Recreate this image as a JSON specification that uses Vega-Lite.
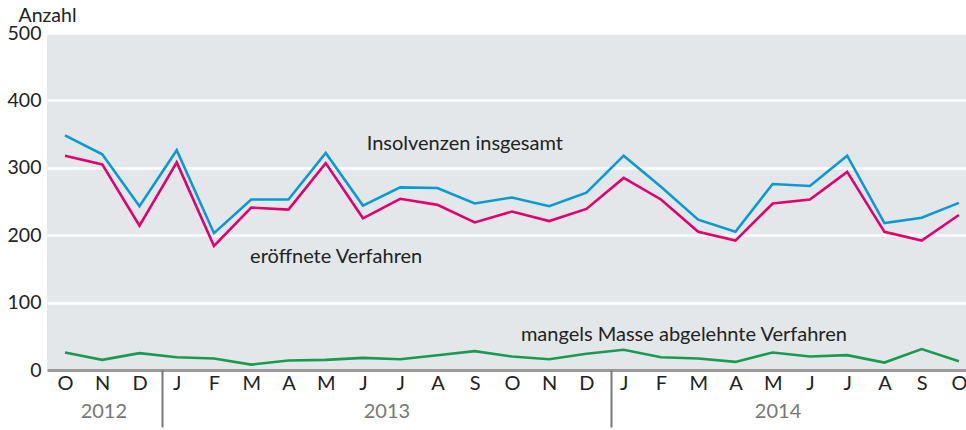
{
  "$schema": "https://vega.github.io/schema/vega-lite/v6.json",
  "width": 919,
  "height": 337,
  "autosize": {"type": "none"},
  "padding": {"left": 47, "top": 33, "right": 0, "bottom": 60},
  "config": {"view": {"fill": "#e3e7ea", "stroke": null}, "font": "Lato"},
  "datasets": {
    "lines": [
      {"i":0,"s":"Insolvenzen insgesamt","v":348},{"i":1,"s":"Insolvenzen insgesamt","v":320},{"i":2,"s":"Insolvenzen insgesamt","v":243},{"i":3,"s":"Insolvenzen insgesamt","v":326},{"i":4,"s":"Insolvenzen insgesamt","v":203},{"i":5,"s":"Insolvenzen insgesamt","v":253},{"i":6,"s":"Insolvenzen insgesamt","v":253},{"i":7,"s":"Insolvenzen insgesamt","v":322},{"i":8,"s":"Insolvenzen insgesamt","v":244},{"i":9,"s":"Insolvenzen insgesamt","v":271},{"i":10,"s":"Insolvenzen insgesamt","v":270},{"i":11,"s":"Insolvenzen insgesamt","v":247},{"i":12,"s":"Insolvenzen insgesamt","v":256},{"i":13,"s":"Insolvenzen insgesamt","v":243},{"i":14,"s":"Insolvenzen insgesamt","v":263},{"i":15,"s":"Insolvenzen insgesamt","v":318},{"i":16,"s":"Insolvenzen insgesamt","v":272},{"i":17,"s":"Insolvenzen insgesamt","v":223},{"i":18,"s":"Insolvenzen insgesamt","v":205},{"i":19,"s":"Insolvenzen insgesamt","v":276},{"i":20,"s":"Insolvenzen insgesamt","v":273},{"i":21,"s":"Insolvenzen insgesamt","v":318},{"i":22,"s":"Insolvenzen insgesamt","v":218},{"i":23,"s":"Insolvenzen insgesamt","v":226},{"i":24,"s":"Insolvenzen insgesamt","v":248},
      {"i":0,"s":"eröffnete Verfahren","v":318},{"i":1,"s":"eröffnete Verfahren","v":305},{"i":2,"s":"eröffnete Verfahren","v":214},{"i":3,"s":"eröffnete Verfahren","v":308},{"i":4,"s":"eröffnete Verfahren","v":184},{"i":5,"s":"eröffnete Verfahren","v":241},{"i":6,"s":"eröffnete Verfahren","v":238},{"i":7,"s":"eröffnete Verfahren","v":307},{"i":8,"s":"eröffnete Verfahren","v":225},{"i":9,"s":"eröffnete Verfahren","v":254},{"i":10,"s":"eröffnete Verfahren","v":245},{"i":11,"s":"eröffnete Verfahren","v":219},{"i":12,"s":"eröffnete Verfahren","v":235},{"i":13,"s":"eröffnete Verfahren","v":221},{"i":14,"s":"eröffnete Verfahren","v":239},{"i":15,"s":"eröffnete Verfahren","v":285},{"i":16,"s":"eröffnete Verfahren","v":253},{"i":17,"s":"eröffnete Verfahren","v":205},{"i":18,"s":"eröffnete Verfahren","v":192},{"i":19,"s":"eröffnete Verfahren","v":247},{"i":20,"s":"eröffnete Verfahren","v":253},{"i":21,"s":"eröffnete Verfahren","v":294},{"i":22,"s":"eröffnete Verfahren","v":205},{"i":23,"s":"eröffnete Verfahren","v":192},{"i":24,"s":"eröffnete Verfahren","v":230},
      {"i":0,"s":"mangels Masse abgelehnte Verfahren","v":26},{"i":1,"s":"mangels Masse abgelehnte Verfahren","v":15},{"i":2,"s":"mangels Masse abgelehnte Verfahren","v":25},{"i":3,"s":"mangels Masse abgelehnte Verfahren","v":19},{"i":4,"s":"mangels Masse abgelehnte Verfahren","v":17},{"i":5,"s":"mangels Masse abgelehnte Verfahren","v":8},{"i":6,"s":"mangels Masse abgelehnte Verfahren","v":14},{"i":7,"s":"mangels Masse abgelehnte Verfahren","v":15},{"i":8,"s":"mangels Masse abgelehnte Verfahren","v":18},{"i":9,"s":"mangels Masse abgelehnte Verfahren","v":16},{"i":10,"s":"mangels Masse abgelehnte Verfahren","v":22},{"i":11,"s":"mangels Masse abgelehnte Verfahren","v":28},{"i":12,"s":"mangels Masse abgelehnte Verfahren","v":20},{"i":13,"s":"mangels Masse abgelehnte Verfahren","v":16},{"i":14,"s":"mangels Masse abgelehnte Verfahren","v":24},{"i":15,"s":"mangels Masse abgelehnte Verfahren","v":30},{"i":16,"s":"mangels Masse abgelehnte Verfahren","v":19},{"i":17,"s":"mangels Masse abgelehnte Verfahren","v":17},{"i":18,"s":"mangels Masse abgelehnte Verfahren","v":12},{"i":19,"s":"mangels Masse abgelehnte Verfahren","v":26},{"i":20,"s":"mangels Masse abgelehnte Verfahren","v":20},{"i":21,"s":"mangels Masse abgelehnte Verfahren","v":22},{"i":22,"s":"mangels Masse abgelehnte Verfahren","v":11},{"i":23,"s":"mangels Masse abgelehnte Verfahren","v":31},{"i":24,"s":"mangels Masse abgelehnte Verfahren","v":13}
    ],
    "labels": [
      {"i":8.1,"v":336,"t":"Insolvenzen insgesamt"},
      {"i":4.97,"v":168,"t":"eröffnete Verfahren"},
      {"i":12.24,"v":52,"t":"mangels Masse abgelehnte Verfahren"}
    ]
  },
  "layer": [
    {
      "data": {"name": "lines"},
      "mark": {"type": "line", "strokeWidth": 2.6, "strokeJoin": "miter"},
      "encoding": {
        "x": {
          "field": "i", "type": "quantitative",
          "scale": {"domain": [-0.483, 24.19], "nice": false, "zero": false},
          "axis": {
            "orient": "bottom",
            "values": [0,1,2,3,4,5,6,7,8,9,10,11,12,13,14,15,16,17,18,19,20,21,22,23,24],
            "labelExpr": "['O','N','D','J','F','M','A','M','J','J','A','S','O','N','D','J','F','M','A','M','J','J','A','S','O'][datum.value]",
            "ticks": false, "grid": false,
            "domainColor": "#9a9a9a", "domainWidth": 3,
            "labelFontSize": 20, "labelColor": "#222", "labelPadding": 3,
            "labelFlush": false, "labelOverlap": false, "labelBound": false,
            "title": null
          }
        },
        "y": {
          "field": "v", "type": "quantitative",
          "scale": {"domain": [0, 500], "nice": false},
          "axis": {
            "values": [0,100,200,300,400,500],
            "grid": true, "gridColor": "#ffffff", "gridWidth": 2.5,
            "ticks": false, "domain": false,
            "labelFontSize": 19.5, "labelColor": "#222", "labelPadding": 6,
            "title": "Anzahl", "titleAngle": 0, "titleAlign": "left", "titleBaseline": "middle",
            "titleX": -29, "titleY": -18, "titleFontWeight": "normal", "titleFontSize": 19.5, "titleColor": "#222"
          }
        },
        "color": {
          "field": "s", "type": "nominal",
          "scale": {"domain": ["Insolvenzen insgesamt","eröffnete Verfahren","mangels Masse abgelehnte Verfahren"], "range": ["#0a9ad3","#e2006d","#1a9a50"]},
          "legend": null
        }
      }
    },
    {
      "data": {"name": "labels"},
      "mark": {"type": "text", "align": "left", "baseline": "middle", "fontSize": 20, "color": "#222"},
      "encoding": {
        "x": {
          "field": "i", "type": "quantitative",
          "axis": {
            "orient": "bottom",
            "values": [1.03, 2.6, 8.63, 14.65, 19.13],
            "labelExpr": "datum.value < 2 ? '2012' : (datum.value > 8 && datum.value < 9) ? '2013' : datum.value > 19 ? '2014' : ''",
            "tickSize": 57, "tickWidth": 2, "tickColor": "#777",
            "tickOpacity": {"condition": {"test": "datum.value == 2.6 || datum.value == 14.65", "value": 1}, "value": 0},
            "domain": false, "grid": false,
            "labelPadding": -26, "labelColor": "#777", "labelFontSize": 20,
            "labelFlush": false, "labelOverlap": false, "labelBound": false,
            "title": null
          }
        },
        "y": {"field": "v", "type": "quantitative", "axis": null},
        "text": {"field": "t"}
      }
    }
  ],
  "resolve": {"axis": {"x": "independent", "y": "independent"}}
}
